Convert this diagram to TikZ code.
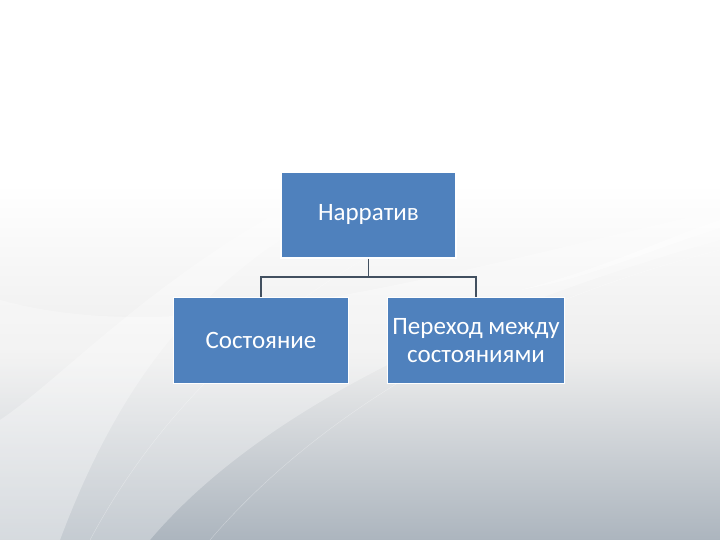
\documentclass[tikz,border=0pt]{standalone}
\usepackage{fontspec}
\setmainfont{Carlito}
\usetikzlibrary{positioning}
\definecolor{boxblue}{RGB}{79,129,189}
\definecolor{linkgray}{RGB}{66,80,96}
\definecolor{slatebg}{RGB}{172,181,190}
\pgfdeclareverticalshading{backdrop}{100bp}{color(0bp)=(slatebg); color(25bp)=(slatebg);
	color(42bp)=(gray!14); color(58bp)=(white); color(100bp)=(white)}

\begin{document}
\begin{tikzpicture}[
	x=1pt, y=1pt,
	box/.style={draw=white, line width=1.5pt, fill=boxblue, text=white,
		minimum width=175pt, minimum height=86pt, inner sep=0pt,
		align=center, font=\fontsize{25}{28}\selectfont},
	link/.style={draw=linkgray, line width=1.5pt},
	streak/.style={fill=white, opacity=.3}]
\useasboundingbox (0,0) rectangle (720,540);
% backdrop
\shade[shading=backdrop] (0,0) rectangle (720,540);
\fill[streak] (0,0) -- (150,0) .. controls (260,130) and (470,230) .. (720,300)
	-- (720,330) .. controls (420,260) and (180,190) .. (0,240) -- cycle;
\fill[streak] (0,0) -- (60,0) .. controls (120,160) and (200,260) .. (330,330)
	-- (300,340) .. controls (150,260) and (60,160) .. (0,120) -- cycle;
\fill[streak, opacity=.4] (520,250) .. controls (600,270) and (660,300) .. (720,320)
	-- (720,312) .. controls (650,290) and (590,262) .. (520,250) -- cycle;
\draw[white, opacity=.35] (90,0) .. controls (170,150) and (300,260) .. (460,330);
\draw[white, opacity=.35] (210,0) .. controls (330,140) and (520,240) .. (720,290);

\node[box] (narr) at (368.5,325) {Нарратив};
\node[box] (state) at (261,199.5) {Состояние};
\node[box, minimum width=177pt] (trans) at (476,199.5) {Переход между\\состояниями};
\coordinate (bar) at (368.5,263);
\draw[link] (narr.south) -- (bar);
\draw[link] (state.north) |- (bar) -| (trans.north);
\end{tikzpicture}
\end{document}
